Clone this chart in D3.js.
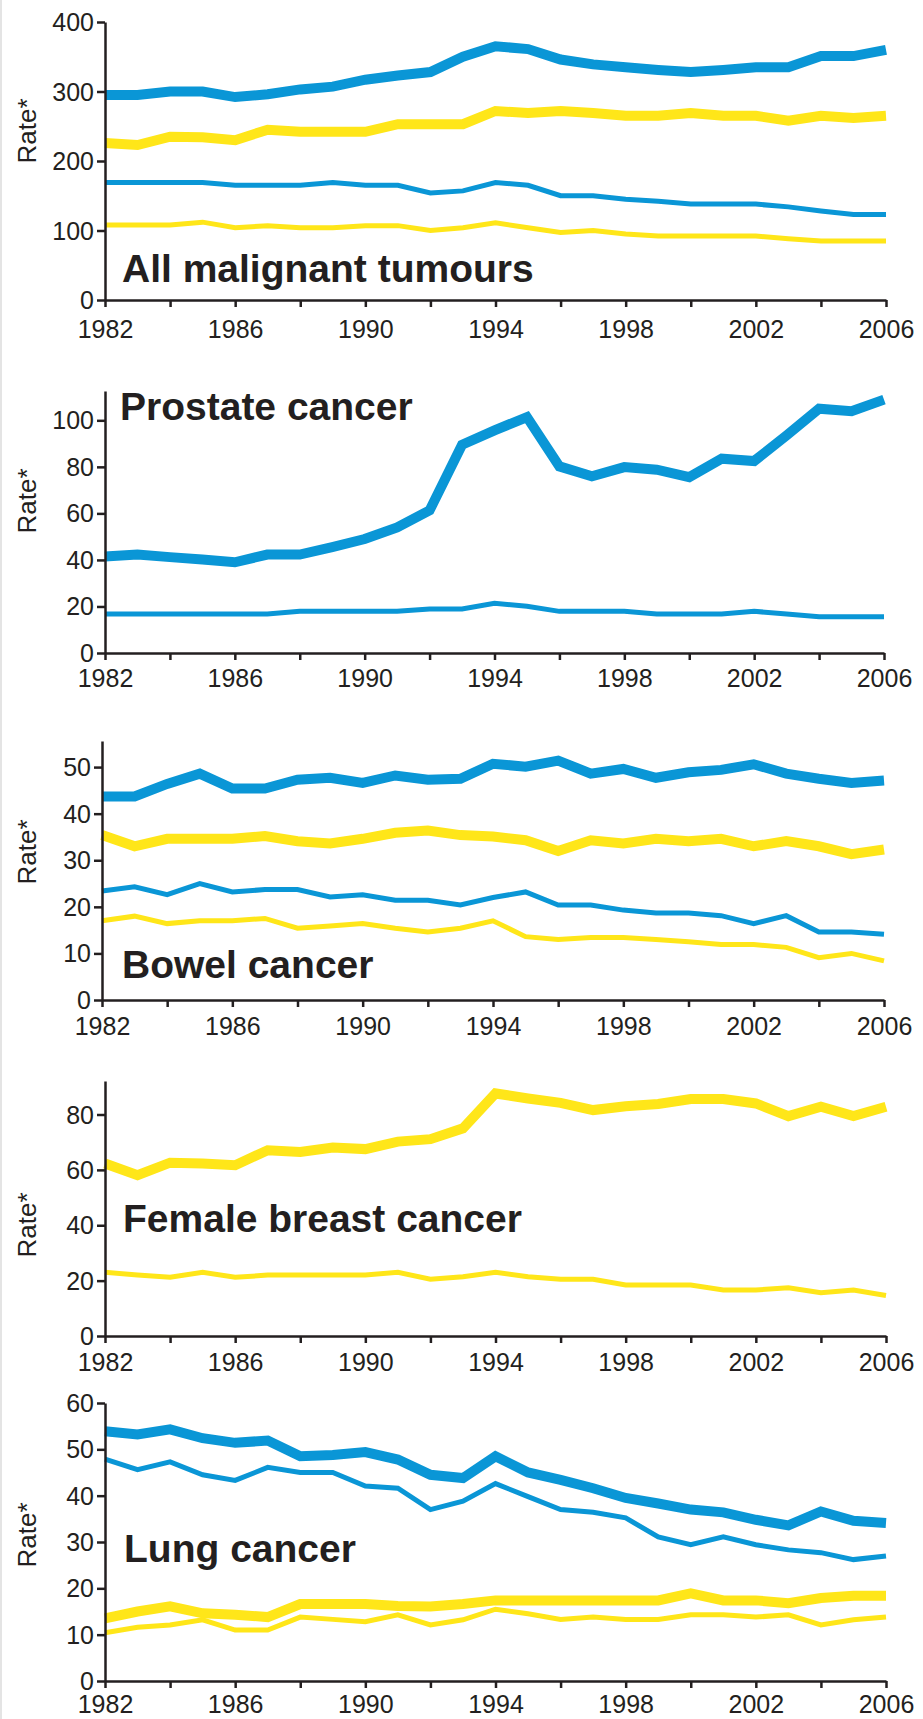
<!DOCTYPE html>
<html>
<head>
<meta charset="utf-8">
<script src="https://cdnjs.cloudflare.com/ajax/libs/d3/7.8.5/d3.min.js"></script>
<style>
body { margin: 0; background: #fff; }
text { font-family: "Liberation Sans", Arial, sans-serif; fill: #231f20; }
</style>
</head>
<body>
<div id="chart-area"></div>
<script>
// years on the x axis
var years = [1982,1983,1984,1985,1986,1987,1988,1989,1990,1991,1992,1993,1994,
    1995,1996,1997,1998,1999,2000,2001,2002,2003,2004,2005,2006];

// All malignant tumours
var allBlueThick = [295,295,300,300,292,296,303,307,317,323,328,350,365,361,346,339,335,331,328,331,335,335,351,351,360];
var allYellowThick = [226,223,235,234,230,245,242,242,242,253,253,253,272,269,272,269,265,265,269,265,265,258,265,262,265];
var allBlueThin = [169,169,169,169,165,165,165,169,165,165,154,157,169,165,150,150,145,142,138,138,138,134,128,123,123];
var allYellowThin = [108,108,108,112,104,107,104,104,107,107,100,104,111,104,97,100,95,92,92,92,92,88,85,85,85];

// Prostate cancer
var prostateThick = [41.5,42.3,41.2,40.2,39,42.3,42.3,45.5,49,54,61.3,89.5,95.7,101.4,80.2,75.9,79.9,78.8,75.6,83.5,82.5,93.5,105,103.9,108.9];
var prostateThin = [16.8,16.8,16.8,16.8,16.8,16.8,17.9,17.9,17.9,17.9,18.9,18.9,21.4,20.1,17.9,17.9,17.9,16.8,16.8,16.8,17.9,16.8,15.6,15.6,15.6];

// Bowel cancer
var bowelBlueThick = [43.7,43.7,46.4,48.6,45.4,45.4,47.3,47.7,46.6,48.2,47.3,47.5,50.7,50.1,51.4,48.6,49.6,47.7,48.9,49.4,50.6,48.6,47.5,46.6,47.1];
var bowelYellowThick = [35.4,33,34.6,34.6,34.6,35.2,34.1,33.6,34.6,35.9,36.4,35.4,35.1,34.3,32,34.3,33.6,34.6,34.1,34.6,33,34.1,33,31.3,32.3];
var bowelBlueThin = [23.4,24.3,22.6,25,23.2,23.7,23.7,22.1,22.6,21.4,21.4,20.4,22,23.2,20.4,20.4,19.3,18.7,18.7,18.1,16.4,18.1,14.6,14.6,14.1];
var bowelYellowThin = [17,18,16.4,17,17,17.5,15.4,15.9,16.4,15.4,14.6,15.4,17,13.6,13,13.4,13.4,13,12.5,11.9,11.9,11.3,9.1,10,8.4];

// Female breast cancer
var breastThick = [62.3,58.1,62.6,62.3,61.7,67.1,66.5,68.1,67.5,70.2,71.1,75,87.6,85.8,84.2,81.6,83,83.8,85.6,85.6,84,79.4,82.8,79.4,82.8];
var breastThin = [23,22,21.2,23,21.2,22,22,22,22,23,20.5,21.4,23,21.4,20.5,20.5,18.4,18.4,18.4,16.6,16.6,17.4,15.6,16.6,14.6];

// Lung cancer
var lungBlueThick = [53.9,53.2,54.3,52.4,51.4,51.9,48.5,48.8,49.4,47.8,44.5,43.8,48.5,45,43.4,41.6,39.5,38.3,37,36.4,34.8,33.6,36.6,34.6,34.1];
var lungBlueThin = [47.9,45.6,47.3,44.5,43.3,46.1,45,45,42.1,41.6,37,38.8,42.6,39.8,37,36.4,35.2,31.1,29.4,31.1,29.4,28.3,27.7,26.2,27];
var lungYellowThick = [13.5,15,16.1,14.6,14.3,13.8,16.6,16.6,16.6,16.2,16.1,16.6,17.4,17.4,17.4,17.4,17.4,17.4,18.9,17.4,17.4,16.8,17.9,18.4,18.4];
var lungYellowThin = [10.4,11.6,12.1,13.2,11,11,13.8,13.3,12.8,14.3,12.1,13.2,15.5,14.5,13.3,13.8,13.3,13.3,14.3,14.3,13.8,14.3,12.1,13.2,13.8];

// tick values
var xTicks = [1982,1984,1986,1988,1990,1992,1994,1996,1998,2000,2002,2004,2006];
var allTicks = [0,100,200,300,400];
var prostateTicks = [0,20,40,60,80,100];
var bowelTicks = [0,10,20,30,40,50];
var breastTicks = [0,20,40,60,80];
var lungTicks = [0,10,20,30,40,50,60];

var blue = "#0a96d6";
var yellow = "#ffe619";
var thick = 10;
var thin = 5;

var panels = [
    {title: "All malignant tumours", top: 22, bottom: 300, left: 105, right: 886, max: 400,
        ticks: allTicks, titleX: 122, titleY: 282, rateY: 131, labelOff: 38,
        series: [[allBlueThin, blue, thin], [allYellowThin, yellow, thin], [allYellowThick, yellow, thick], [allBlueThick, blue, thick]]},
    {title: "Prostate cancer", top: 391, bottom: 653, left: 105, right: 884, max: 112.6,
        ticks: prostateTicks, titleX: 120, titleY: 420, rateY: 501, labelOff: 34,
        series: [[prostateThin, blue, thin], [prostateThick, blue, thick]]},
    {title: "Bowel cancer", top: 741, bottom: 1000, left: 102, right: 884, max: 55.6,
        ticks: bowelTicks, titleX: 122, titleY: 978, rateY: 852, labelOff: 35,
        series: [[bowelYellowThin, yellow, thin], [bowelBlueThin, blue, thin], [bowelYellowThick, yellow, thick], [bowelBlueThick, blue, thick]]},
    {title: "Female breast cancer", top: 1081, bottom: 1336, left: 105, right: 886, max: 92.1,
        ticks: breastTicks, titleX: 123, titleY: 1232, rateY: 1225, labelOff: 35,
        series: [[breastThin, yellow, thin], [breastThick, yellow, thick]]},
    {title: "Lung cancer", top: 1403, bottom: 1681, left: 105, right: 886, max: 60,
        ticks: lungTicks, titleX: 124, titleY: 1562, rateY: 1535, labelOff: 32,
        series: [[lungYellowThin, yellow, thin], [lungBlueThin, blue, thin], [lungYellowThick, yellow, thick], [lungBlueThick, blue, thick]]}
];

var svg = d3.select("#chart-area").append("svg")
    .attr("width", 923)
    .attr("height", 1719);

// faint border on the left edge
svg.append("rect")
    .attr("x", 0).attr("y", 0)
    .attr("width", 2).attr("height", 1719)
    .attr("fill", "#e4e4e4");

panels.forEach(function(p) {
    var g = svg.append("g");
    var x = d3.scaleLinear().domain([1982, 2006]).range([p.left, p.right]);
    var y = d3.scaleLinear().domain([0, p.max]).range([p.bottom, p.top]);

    var line = d3.line()
        .x(function(d, i) { return x(years[i]); })
        .y(function(d) { return y(d); });

    p.series.forEach(function(s) {
        g.append("path")
            .datum(s[0])
            .attr("fill", "none")
            .attr("stroke", s[1])
            .attr("stroke-width", s[2])
            .attr("stroke-linejoin", "miter")
            .attr("d", line);
    });

    var xAxis = d3.axisBottom(x)
        .tickValues(xTicks)
        .tickSize(7)
        .tickSizeOuter(0)
        .tickFormat(function(d) { return (d - 1982) % 4 === 0 ? d : ""; });
    var xg = g.append("g")
        .attr("transform", "translate(0," + p.bottom + ")")
        .call(xAxis);
    xg.selectAll("text")
        .attr("y", p.labelOff)
        .attr("dy", 0)
        .attr("font-size", "25px");

    var yAxis = d3.axisLeft(y)
        .tickValues(p.ticks)
        .tickSize(8)
        .tickPadding(3)
        .tickSizeOuter(0);
    var yg = g.append("g")
        .attr("transform", "translate(" + p.left + ",0)")
        .call(yAxis);
    yg.selectAll("text")
        .attr("font-size", "25px")
        .attr("dy", "0.34em");

    g.selectAll(".domain, .tick line")
        .attr("stroke", "#231f20")
        .attr("stroke-width", 2.5);

    g.append("text")
        .attr("x", p.titleX)
        .attr("y", p.titleY)
        .attr("font-size", "39px")
        .attr("font-weight", "bold")
        .text(p.title);

    g.append("text")
        .attr("transform", "translate(36," + p.rateY + ") rotate(-90)")
        .attr("text-anchor", "middle")
        .attr("font-size", "26px")
        .text("Rate*");
});
</script>
</body>
</html>
